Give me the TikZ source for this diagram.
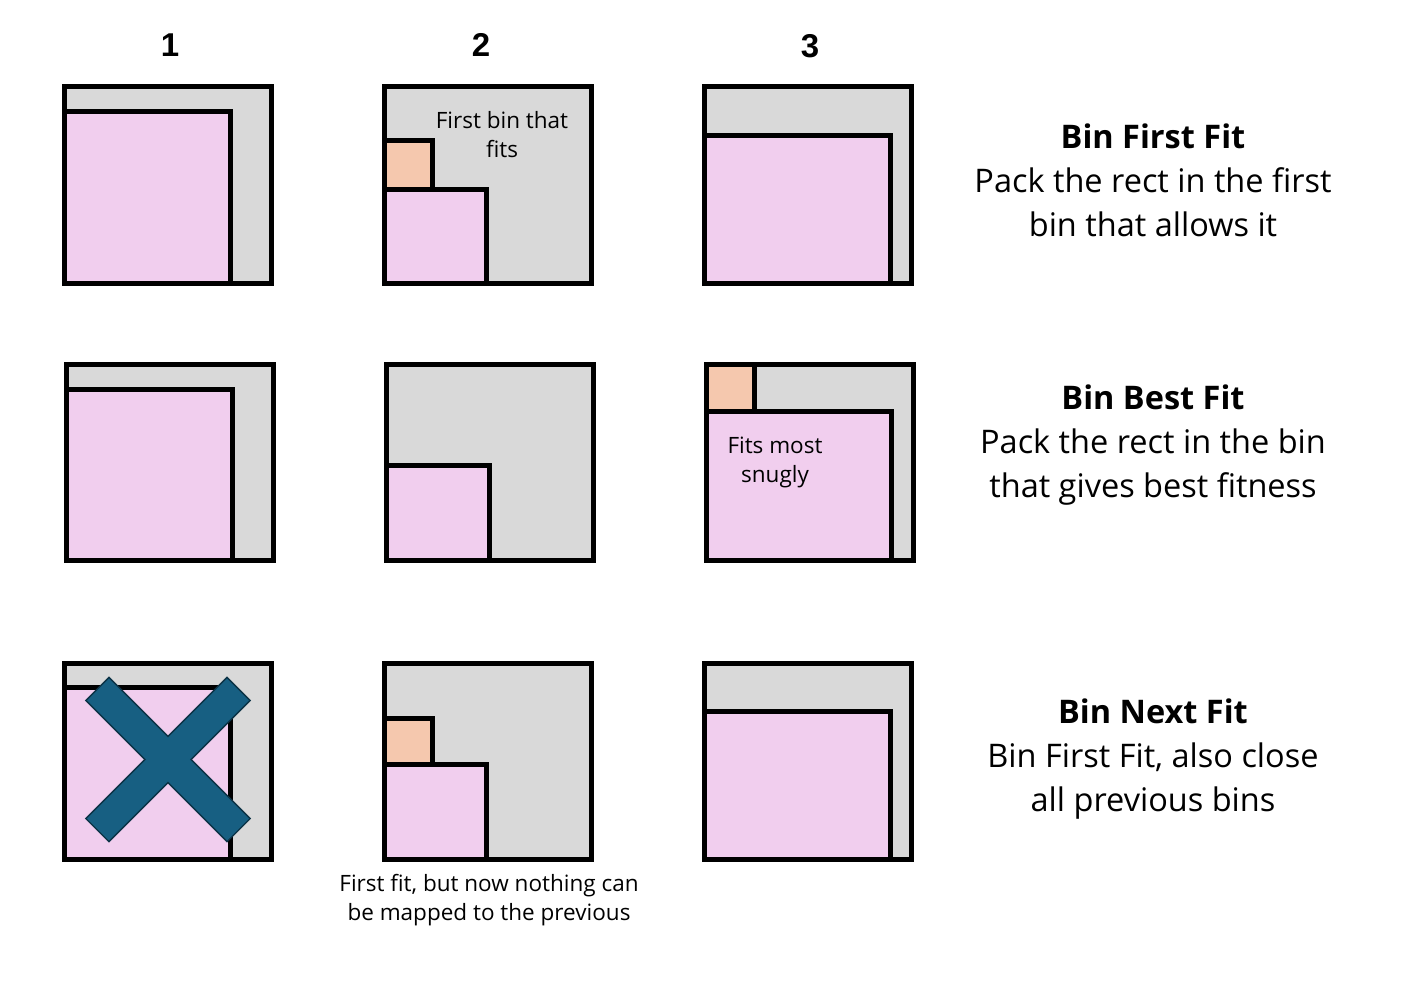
\documentclass[tikz,border=0pt]{standalone}
\usepackage{fontspec}
\setmainfont{Open Sans}
\newfontfamily\numfont{Liberation Sans}
\definecolor{bingray}{HTML}{D9D9D9}
\definecolor{rectpink}{HTML}{F1CEEE}
\definecolor{rectpeach}{HTML}{F5C8AE}
\definecolor{xblue}{HTML}{175F82}
\definecolor{xedge}{HTML}{0C3346}
\tikzset{
  binbox/.style={fill=bingray, draw=black, line width=5pt},
  pinkbox/.style={fill=rectpink, draw=black, line width=5pt},
  peachbox/.style={fill=rectpeach, draw=black, line width=5pt},
  binedge/.style={draw=black, line width=5pt},
  colnum/.style={font=\numfont\bfseries\fontsize{33}{40}\selectfont, inner sep=0pt},
  desc/.style={align=center, inner sep=0pt, font=\fontsize{32.5}{44}\selectfont},
  note/.style={align=center, inner sep=0pt, font=\fontsize{22.5}{29}\selectfont},
}
\begin{document}
\begin{tikzpicture}[x=1pt,y=-1pt]
\useasboundingbox (0,0) rectangle (1410,989);
% column numbers
\node[colnum] (n1) at (170,45) {1};
\node[colnum] (n2) at (481,45) {2};
\node[colnum] (n3) at (810,46) {3};

% ---------- Row 1 ----------
% bin 1
\path[binbox] (64.5,86.5) rectangle (271,283.5);
\path[pinkbox] (64.5,111.5) rectangle (230.5,283.5);
\path[binedge] (64.5,86.5) rectangle (271,283.5);
% bin 2
\path[binbox] (384.5,86.5) rectangle (591,283.5);
\path[peachbox] (384.5,140.5) rectangle (432,189.5);
\path[pinkbox] (384.5,189.5) rectangle (486.5,283.5);
\path[binedge] (384.5,86.5) rectangle (591,283.5);
\node[note] (t12) at (502,135) {First bin that\\fits};
% bin 3
\path[binbox] (704.5,86.5) rectangle (911,283.5);
\path[pinkbox] (704.5,135.5) rectangle (890.5,283.5);
\path[binedge] (704.5,86.5) rectangle (911,283.5);

% ---------- Row 2 ----------
\path[binbox] (66.5,364) rectangle (273,560);
\path[pinkbox] (66.5,389) rectangle (232.5,560);
\path[binedge] (66.5,364) rectangle (273,560);

\path[binbox] (386.5,364) rectangle (593,560);
\path[pinkbox] (386.5,465.5) rectangle (489,560);
\path[binedge] (386.5,364) rectangle (593,560);

\path[binbox] (706.5,364) rectangle (913,560);
\path[peachbox] (706.5,364) rectangle (754.5,411.5);
\path[pinkbox] (706.5,411.5) rectangle (891.5,560);
\path[binedge] (706.5,364) rectangle (913,560);
\node[note] (t23) at (775,462) {Fits most\\snugly};

% ---------- Row 3 ----------
\path[binbox] (64.5,663) rectangle (271,859);
\path[pinkbox] (64.5,687.5) rectangle (230.5,859);
\path[binedge] (64.5,663) rectangle (271,859);
% cross
\begin{scope}
\draw[xedge, line width=3pt, rotate around={45:(168,759.5)}] (69,744) rectangle (267,775);
\draw[xedge, line width=3pt, rotate around={-45:(168,759.5)}] (69,744) rectangle (267,775);
\fill[xblue, rotate around={45:(168,759.5)}] (69,744) rectangle (267,775);
\fill[xblue, rotate around={-45:(168,759.5)}] (69,744) rectangle (267,775);
\end{scope}

\path[binbox] (384.5,663) rectangle (591,859);
\path[peachbox] (384.5,718) rectangle (432,764.5);
\path[pinkbox] (384.5,764.5) rectangle (486.5,859);
\path[binedge] (384.5,663) rectangle (591,859);
\node[note] (t32) at (489,900) {First fit, but now nothing can\\be mapped to the previous};

\path[binbox] (704.5,663) rectangle (911,859);
\path[pinkbox] (704.5,711.5) rectangle (890.5,859);
\path[binedge] (704.5,663) rectangle (911,859);

% ---------- Descriptions ----------
\node[desc] (d1) at (1153,180) {\textbf{Bin First Fit}\\Pack the rect in the first\\bin that allows it};
\node[desc] (d2) at (1153,445) {\textbf{Bin Best Fit}\\Pack the rect in the bin\\that gives best fitness};
\node[desc] (d3) at (1153,759) {\textbf{Bin Next Fit}\\Bin First Fit, also close\\all previous bins};
\end{tikzpicture}
\end{document}
